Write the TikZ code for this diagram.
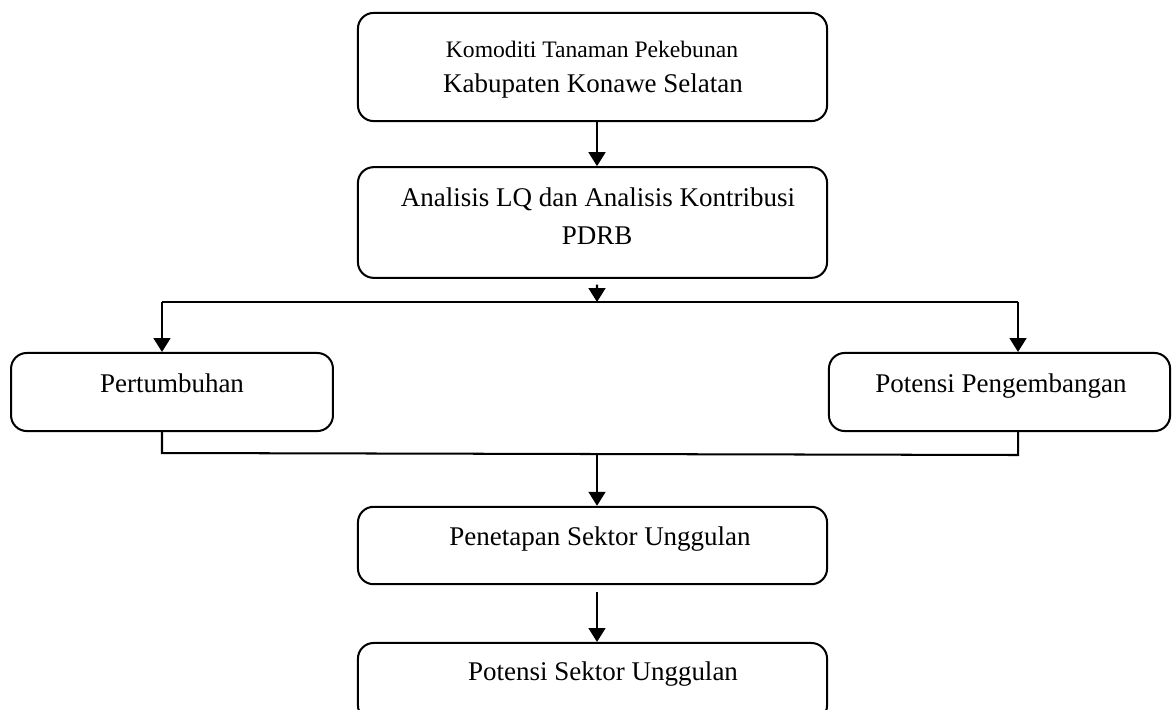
\documentclass[tikz,border=0pt]{standalone}
\usepackage{fontspec}
\setmainfont{Liberation Serif}
\usetikzlibrary{arrows.meta}

\begin{document}
\begin{tikzpicture}[x=0.015625cm,y=-0.015625cm,
  box/.style={draw,line width=0.9pt,rounded corners=7pt,inner sep=0pt},
  txt/.style={anchor=base,inner sep=0pt,font=\fontsize{12}{14}\selectfont},
  arr/.style={line width=0.9pt,-{Triangle[length=6.2pt,width=7.5pt]}},
  ln/.style={line width=0.9pt}]
%picture
\useasboundingbox (0,0) rectangle (1172,709);
\node[box,minimum width=7.33cm,minimum height=1.69cm] (komoditi) at (592.5,67) {};
\node[box,minimum width=7.33cm,minimum height=1.73cm] (analisis) at (592.5,222.5) {};
\node[box,minimum width=5.03cm,minimum height=1.22cm] (tumbuh) at (172,392) {};
\node[box,minimum width=5.33cm,minimum height=1.22cm] (potensi) at (999.5,392) {};
\node[box,minimum width=7.33cm,minimum height=1.21cm] (tetap) at (592.5,545.5) {};
\node[box,minimum width=7.33cm,minimum height=1.22cm] (unggul) at (592.5,682) {};
\node[txt,font=\fontsize{10.5}{12}\selectfont] (komoditiA) at (592,57) {Komoditi Tanaman Pekebunan};
\node[txt] (komoditiB) at (593,92) {Kabupaten Konawe Selatan};
\node[txt] (analisisA) at (598,206) {Analisis LQ dan Analisis Kontribusi};
\node[txt] (analisisB) at (597,244) {PDRB};
\node[txt] (tumbuhT) at (172,392) {Pertumbuhan};
\node[txt] (potensiT) at (1001,392) {Potensi Pengembangan};
\node[txt] (tetapT) at (600,545) {Penetapan Sektor Unggulan};
\node[txt] (unggulT) at (603,680) {Potensi Sektor Unggulan};
\coordinate (bagi) at (597,302);
\coordinate (bagiL) at (162,302);
\coordinate (bagiR) at (1018,302);
\coordinate (gabL) at (162,453);
\coordinate (gabR) at (1018,455);
\coordinate (gab) at (597,454);
\draw[arr] ([xshift=2pt]komoditi.south) -- ([xshift=2pt]analisis.north);
\draw[arr] ([xshift=2pt,yshift=-2.5pt]analisis.south) -- (bagi);
\draw[ln] (bagiL) -- (bagiR);
\draw[arr] (bagiL) -- (bagiL |- tumbuh.north);
\draw[arr] (bagiR) -- (bagiR |- potensi.north);
\draw[ln] (tumbuh.south -| gabL) -- (gabL) -- (gabR) -- (potensi.south -| gabR);
\draw[arr] (gab) -- (gab |- tetap.north);
\draw[arr] ([xshift=2pt,yshift=-3pt]tetap.south) -- ([xshift=2pt]unggul.north);
\end{tikzpicture}
\end{document}
